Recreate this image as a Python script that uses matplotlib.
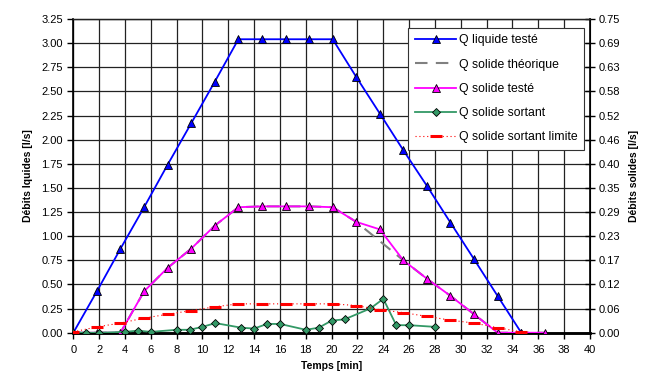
import matplotlib
matplotlib.use('Agg')
import numpy as np
from matplotlib import pyplot as plt
from matplotlib.ticker import FormatStrFormatter

plt.rcParams['font.family'] = ['Liberation Sans', 'DejaVu Sans']

# temps des mesures [min]
temps = [0, 1.83, 3.65, 5.48, 7.30, 9.13, 10.95, 12.78, 14.60, 16.43, 18.25,
         20.08, 21.90, 23.73, 25.55, 27.38, 29.20, 31.03, 32.85, 34.68, 36.50]

# débit liquide [l/s] (axe gauche)
q_liquide = [0, 0.43, 0.87, 1.30, 1.74, 2.17, 2.60, 3.04, 3.04, 3.04, 3.04,
             3.04, 2.65, 2.27, 1.89, 1.52, 1.14, 0.76, 0.38, 0.0]

# débits solides [l/s] (axe droit)
q_solide_teste = [0, 0, 0, 0.099, 0.155, 0.201, 0.256, 0.300, 0.302, 0.302, 0.302,
                  0.300, 0.265, 0.247, 0.173, 0.129, 0.088, 0.044, 0, 0, 0]
q_solide_theo = [0, 0, 0, 0.099, 0.155, 0.201, 0.256, 0.300, 0.302, 0.302, 0.302,
                 0.300, 0.265, 0.219, 0.173, 0.129, 0.088, 0.044, 0, 0, 0]
q_limite = [0.002, 0.014, 0.023, 0.035, 0.044, 0.053, 0.062, 0.069, 0.069, 0.069,
            0.069, 0.069, 0.065, 0.055, 0.048, 0.039, 0.030, 0.023, 0.012, 0.002]

temps_sortant = [0, 1, 2, 4, 5, 6, 8, 9, 10, 11, 13, 14, 15, 16, 18, 19, 20, 21,
                 23, 24, 25, 26, 28]
q_sortant = [0, 0, 0, 0.002, 0.005, 0.002, 0.007, 0.007, 0.014, 0.023, 0.012,
             0.010, 0.021, 0.021, 0.007, 0.012, 0.029, 0.032, 0.058, 0.081,
             0.018, 0.018, 0.014]

fig = plt.figure(figsize=(6.57, 3.72), dpi=100)
ax1 = fig.add_axes([0.1116, 0.1056, 0.7864, 0.8434])
ax2 = ax1.twinx()

l1, = ax1.plot(temps[:len(q_liquide)], q_liquide, c='#0000ff', lw=1.3, marker='^',
               ms=6, mfc='#0000ff', mec='black', mew=0.6, label='Q liquide testé', zorder=3)

l2, = ax2.plot(temps, q_solide_theo, c='#808080', lw=1.5, ls=(0, (6, 4)),
               label='Q solide théorique', zorder=2)
l3, = ax2.plot(temps, q_solide_teste, c='#ff00ff', lw=1.3, marker='^', ms=6,
               mfc='#ff00ff', mec='black', mew=0.6, label='Q solide testé', zorder=3)
l4, = ax2.plot(temps_sortant, q_sortant, c='#339966', lw=1.3, marker='D', ms=4.5,
               mfc='#339966', mec='black', mew=0.6, label='Q solide sortant', zorder=3)
l5, = ax2.plot(temps[:len(q_limite)], q_limite, c='red', lw=0.8, ls=(0, (1, 2.5)),
               marker='_', ms=9, mew=2.2, mec='red', label='Q solide sortant limite',
               zorder=3)

ax1.set_xlim(0, 40)
ax1.set_ylim(0, 3.25)
ax2.set_ylim(0, 0.75)
ax1.set_xticks(np.arange(0, 41, 2))
ax1.set_yticks(np.arange(0, 3.26, 0.25))
ax2.set_yticks(np.linspace(0, 0.75, 14))
ax1.yaxis.set_major_formatter(FormatStrFormatter('%.2f'))
ax2.yaxis.set_major_formatter(FormatStrFormatter('%.2f'))

ax1.grid(True, color='#222222', lw=0.9)
ax1.set_axisbelow(True)
for sp in ['left', 'bottom', 'right']:
    ax1.spines[sp].set_color('black')
    ax2.spines[sp].set_color('black')
ax1.spines['bottom'].set_linewidth(1.8)
ax2.spines['bottom'].set_linewidth(1.8)
ax2.spines['right'].set_linewidth(1.2)
ax1.spines['left'].set_linewidth(1.2)
ax1.spines['top'].set_linewidth(0.9)
ax2.spines['top'].set_linewidth(0.9)
ax1.spines['top'].set_color('#222222')
ax2.spines['top'].set_color('#222222')

ax1.tick_params(axis='both', labelsize=8, colors='black', length=4, width=1)
ax1.tick_params(axis='x', direction='out', pad=5)
ax2.tick_params(axis='y', labelsize=8, direction='inout', length=7, width=1, pad=3)

ax1.set_xlabel('Temps [min]', fontsize=7.5, fontweight='bold', labelpad=4)
ax1.set_ylabel('Débits lquides [l/s]', fontsize=7.5, fontweight='bold', labelpad=6)
ax2.set_ylabel('Débits solides [l/s]', fontsize=7.5, fontweight='bold', labelpad=6)

leg = ax2.legend(handles=[l1, l2, l3, l4, l5], loc='upper left',
                 bbox_to_anchor=(0.648, 0.972), fontsize=8.8, frameon=True,
                 fancybox=False, edgecolor='#333333', framealpha=1,
                 handlelength=3.4, labelspacing=1.0, borderpad=0.55,
                 handletextpad=0.2, borderaxespad=0)
leg.get_frame().set_linewidth(0.8)

fig.savefig('out.png', dpi=100)
